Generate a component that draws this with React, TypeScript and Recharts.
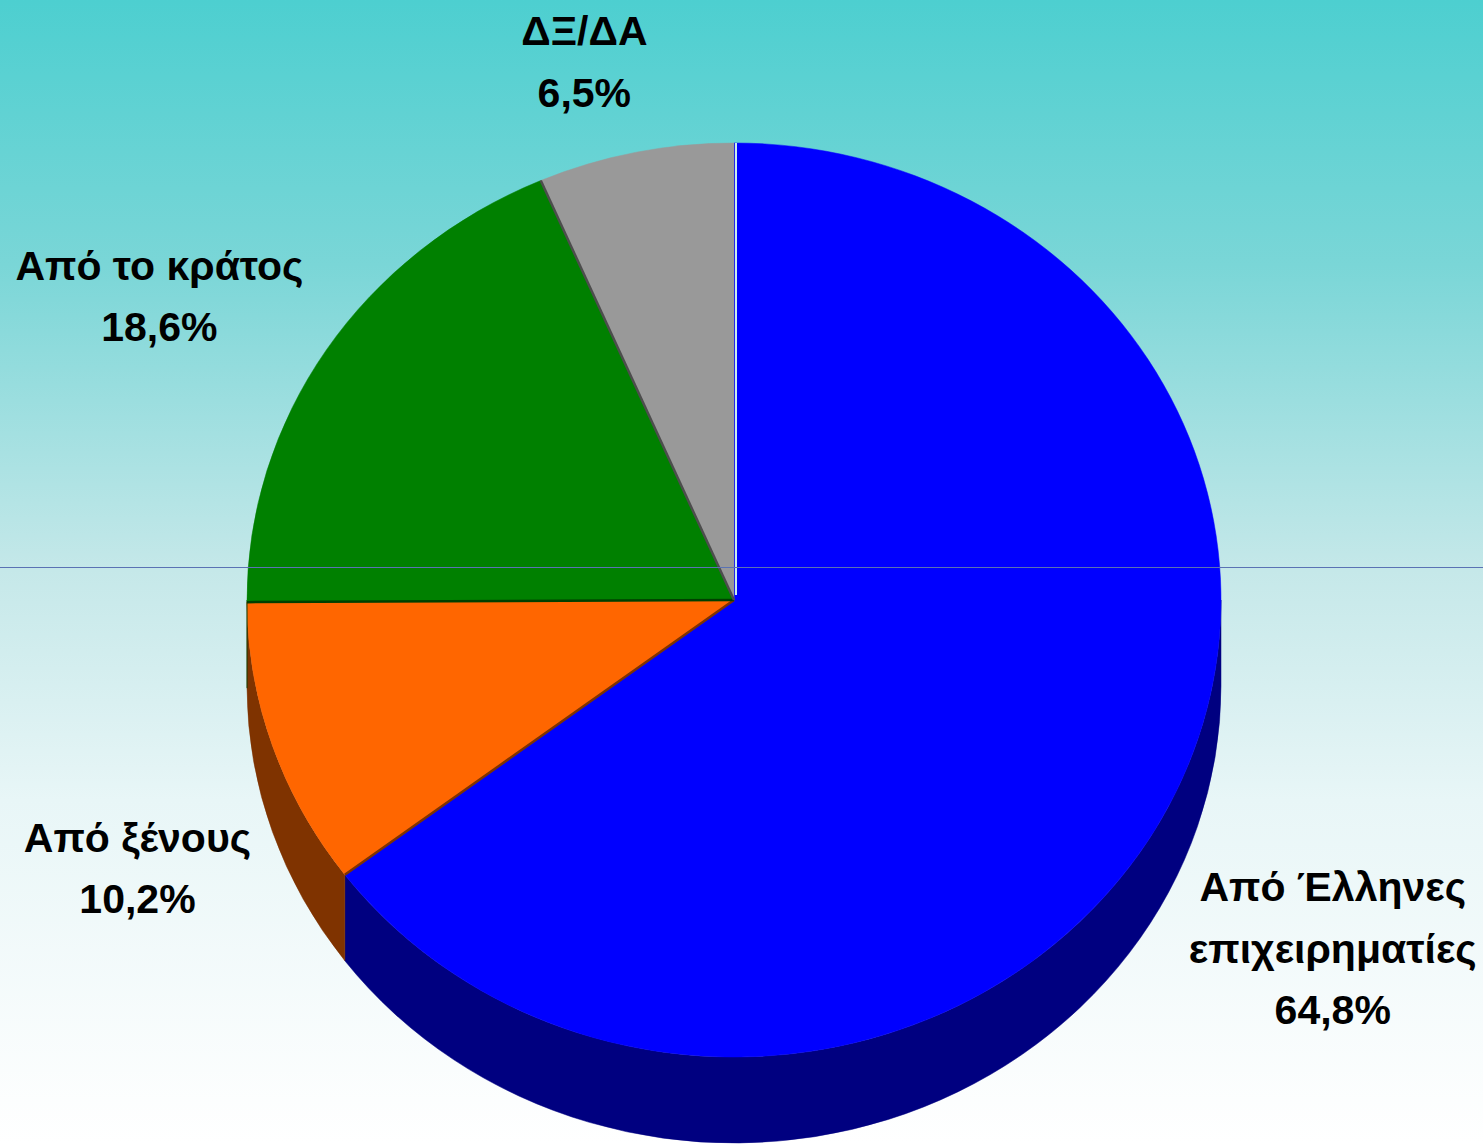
import { PieChart, Pie } from "recharts"

// shares of funding, clockwise from 12 o'clock
const CATEGORIES = ["Από Έλληνες\nεπιχειρηματίες", "Από ξένους", "Από το κράτος", "ΔΞ/ΔΑ"]
const SHARES = [64.8, 10.2, 18.6, 6.5]

const TOP_COLORS = ["#0000FF", "#FF6600", "#008000", "#999999"]
const SIDE_COLORS = ["#000080", "#7F3300", "#004000", "#4D4D4D"]
// label anchor (first baseline, centre) relative to the rim point at mid angle
const LABEL_OFFSETS = [
  [163, 97],
  [-135, 106],
  [-167, -70],
  [-51, -107],
]

const W = 1483
const H = 1144
const CX = 734
const CY = 600
const RX = 487
const RY = 457
const DEPTH = 86
const RAD = Math.PI / 180

const data = CATEGORIES.map((name, i) => ({ name, value: SHARES[i] }))

const fmt = (v: number) => v.toFixed(1).replace(".", ",") + "%"

function renderSlice(props: any) {
  const { cx, cy, outerRadius, startAngle, endAngle, midAngle, index, value } = props
  const rx = outerRadius
  const ry = (outerRadius * RY) / RX
  const pt = (a: number, dy = 0) => [cx + rx * Math.cos(a * RAD), cy - ry * Math.sin(a * RAD) + dy]

  const hi = Math.max(startAngle, endAngle)
  const lo = Math.min(startAngle, endAngle)
  const large = hi - lo > 180 ? 1 : 0
  const [x1, y1] = pt(hi)
  const [x2, y2] = pt(lo)
  const top = `M${cx},${cy} L${x1},${y1} A${rx},${ry} 0 ${large} 1 ${x2},${y2} Z`

  // side wall only where the rim is on the front half
  const sides: string[] = []
  for (let k = -720; k <= 360; k += 360) {
    const a = Math.max(lo, 180 + k)
    const b = Math.min(hi, 360 + k)
    if (b - a > 0.01) {
      const lg = b - a > 180 ? 1 : 0
      const [sx1, sy1] = pt(b)
      const [sx2, sy2] = pt(a)
      const [bx2, by2] = pt(a, DEPTH)
      const [bx1, by1] = pt(b, DEPTH)
      sides.push(
        `M${sx1},${sy1} A${rx},${ry} 0 ${lg} 1 ${sx2},${sy2} L${bx2},${by2} A${rx},${ry} 0 ${lg} 0 ${bx1},${by1} Z`
      )
    }
  }

  const [mx, my] = pt(midAngle)
  const [ox, oy] = LABEL_OFFSETS[index]
  const lines = [...CATEGORIES[index].split("\n"), fmt(value)]

  return (
    <g key={`slice-${index}`}>
      {sides.map((d, j) => (
        <path key={j} d={d} fill={SIDE_COLORS[index]} stroke={SIDE_COLORS[index]} strokeWidth={0.5} />
      ))}
      <path d={top} fill={TOP_COLORS[index]} stroke={TOP_COLORS[index]} strokeWidth={0.5} />
      {index > 0 && (
        <line x1={cx} y1={cy} x2={x1} y2={y1} stroke={SIDE_COLORS[index]} strokeWidth={2.5} />
      )}
      {index === 0 && (
        <line x1={cx + 2} y1={cy - 5} x2={x1 + 2} y2={y1} stroke="#C8ECEE" strokeWidth={2} />
      )}
      <text
        x={mx + ox}
        y={my + oy}
        textAnchor="middle"
        fontFamily="'Liberation Sans', Arial, sans-serif"
        fontWeight="bold"
        fontSize={41}
        fill="#000"
      >
        {lines.map((t, j) => (
          <tspan key={j} x={mx + ox} dy={j === 0 ? 0 : 61.5}>
            {t}
          </tspan>
        ))}
      </text>
    </g>
  )
}

export default function App() {
  return (
    <div
      style={{
        position: "absolute",
        left: 0,
        top: 0,
        width: W,
        height: H,
        overflow: "hidden",
        background:
          "linear-gradient(to bottom, #4DCFD0 0px, #7AD6D7 265px, #C5E8E9 570px, #E8F6F7 800px, #FFFFFF 1144px)",
      }}
    >
      <PieChart width={W} height={H} margin={{ top: 0, right: 0, bottom: 0, left: 0 }}>
        <Pie
          data={data}
          dataKey="value"
          nameKey="name"
          cx={CX}
          cy={CY}
          outerRadius={RX}
          startAngle={90}
          endAngle={-270}
          fill="none"
          stroke="none"
          label={renderSlice}
          labelLine={false}
          isAnimationActive={false}
        />
      </PieChart>
      <div
        style={{
          position: "absolute",
          left: 0,
          top: 567,
          width: W,
          height: 1,
          background: "#5A72B4",
        }}
      />
    </div>
  )
}
